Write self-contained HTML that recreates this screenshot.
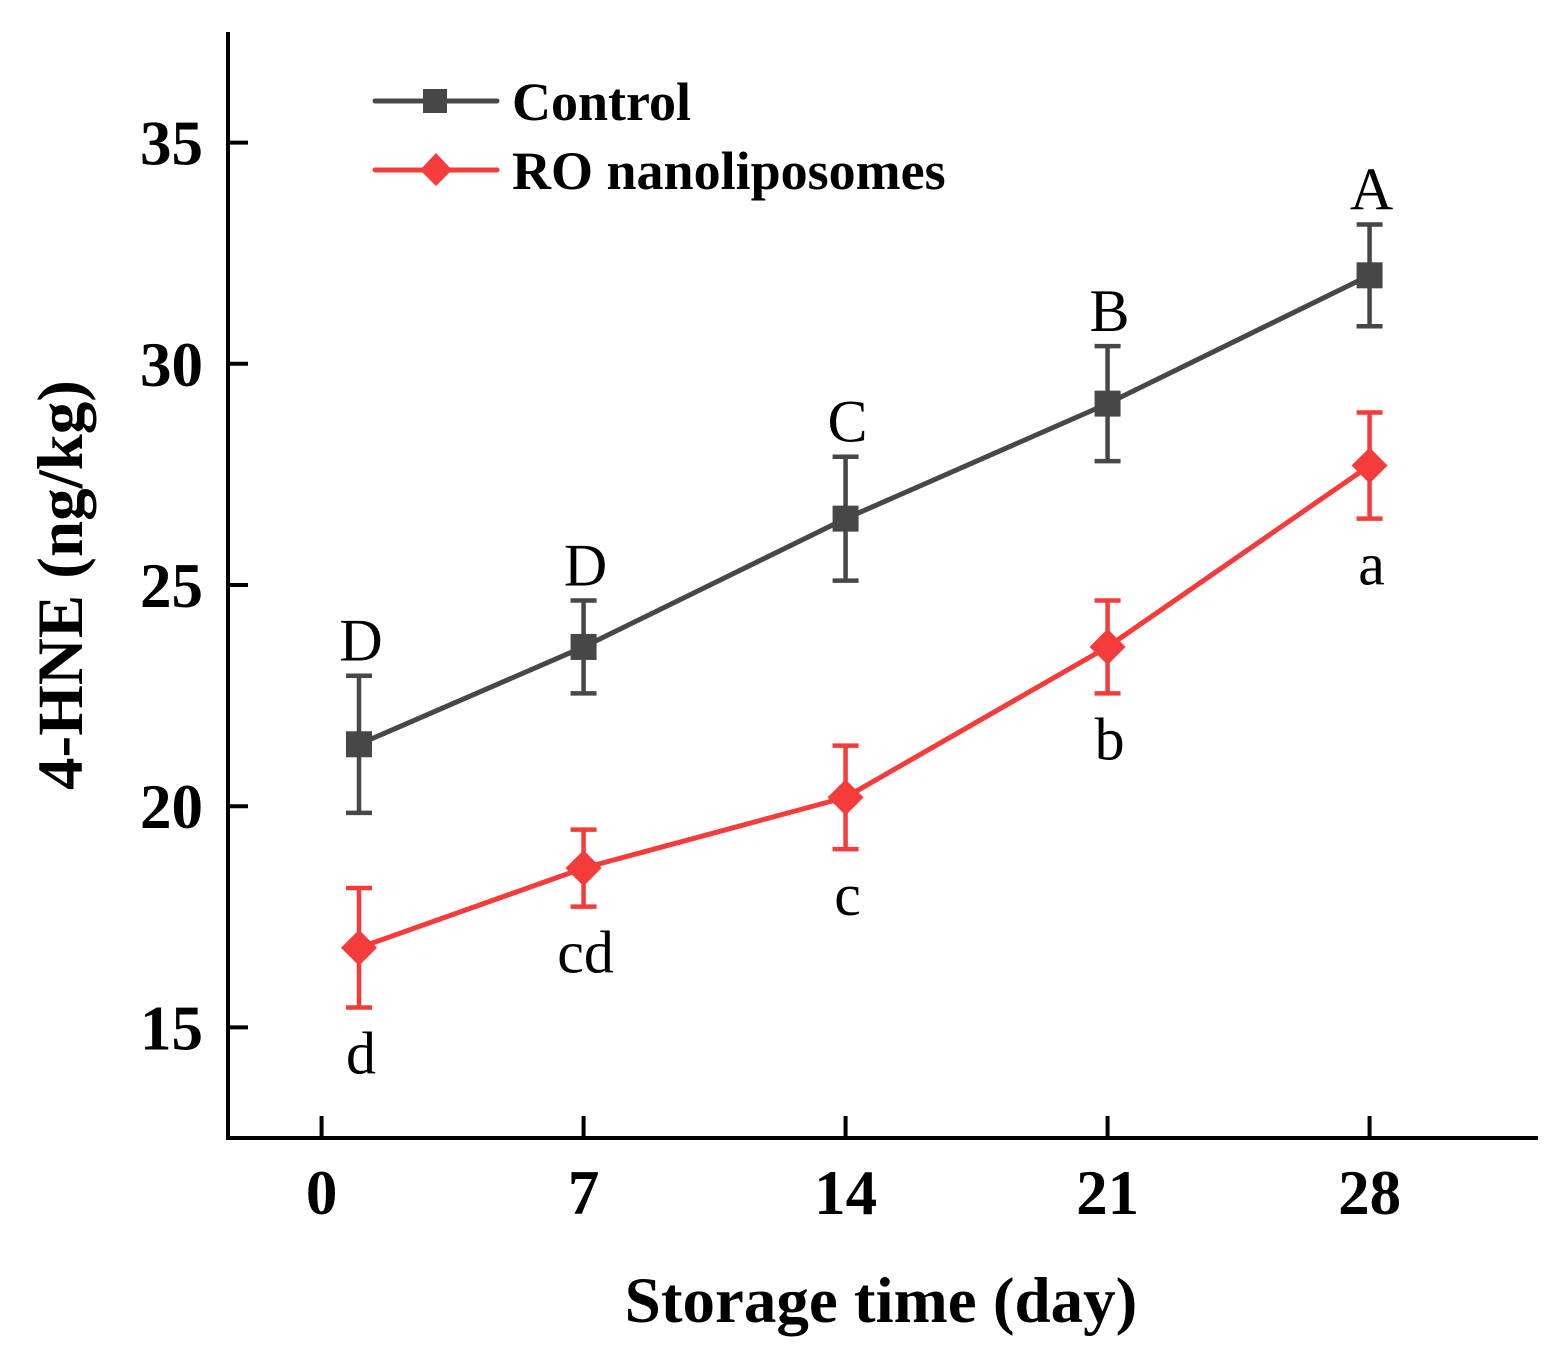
<!DOCTYPE html>
<html><head><meta charset="utf-8"><style>
body{margin:0;background:#fff}
svg{display:block;font-family:"Liberation Serif",serif}
</style></head><body>
<svg id="c" width="1553" height="1364">
<g id="axes"></g>
<g id="plot"></g>
<text x="881" y="1322" text-anchor="middle" font-size="65" font-weight="bold">Storage time (day)</text>
<text transform="translate(82,585) rotate(-90)" text-anchor="middle" font-size="65" font-weight="bold">4-HNE (ng/kg)</text>
<g>
<line x1="375" y1="101" x2="497" y2="101" stroke="#474747" stroke-width="5" stroke-linecap="round"/>
<rect x="423" y="89" width="24" height="24" fill="#474747"/>
<text x="512" y="120" font-size="54" font-weight="bold">Control</text>
<line x1="375" y1="170" x2="497" y2="170" stroke="#f63b3b" stroke-width="5" stroke-linecap="round"/>
<polygon points="436,153 452,170 436,186 420,170" fill="#f63b3b"/>
<text x="512" y="189" font-size="54" font-weight="bold">RO nanoliposomes</text>
</g>
</svg>
<script>
const days=[1,7,14,21,28];
const xTicks=[0,7,14,21,28];
const yTicks=[15,20,25,30,35];
const controlVals=[21.4,23.6,26.5,29.1,32.0];
const controlErr=[1.55,1.05,1.4,1.3,1.15];
const controlLetters=["D","D","C","B","A"];
const roVals=[16.8,18.6,20.2,23.6,27.7];
const roErr=[1.35,0.87,1.17,1.05,1.2];
const roLetters=["d","cd","c","b","a"];
const NS="http://www.w3.org/2000/svg";
const X0=-2.5,X1=32.5,Y0=12.5,Y1=37.5,L=228,R=1538,T=32,B=1138;
const sx=v=>L+(v-X0)/(X1-X0)*(R-L);
const sy=v=>B-(v-Y0)/(Y1-Y0)*(B-T);
function mk(p,tag,a){const e=document.createElementNS(NS,tag);for(const k in a)e.setAttribute(k,a[k]);p.appendChild(e);return e;}
const ax=document.getElementById('axes'),pl=document.getElementById('plot');
let e=mk(ax,'line',{x1:L,y1:T,x2:L,y2:B+2,stroke:'#000','stroke-width':4});

e=mk(ax,'line',{x1:L-2,y1:B,x2:R,y2:B,stroke:'#000','stroke-width':4});

yTicks.forEach(v=>{
 e=mk(ax,'line',{x1:L,y1:sy(v),x2:L+20,y2:sy(v),stroke:'#000','stroke-width':4});
 
 e=mk(ax,'text',{x:L-25,y:sy(v)+22,'text-anchor':'end','font-size':63,'font-weight':'bold'});e.textContent=v;
 
});
xTicks.forEach(v=>{
 e=mk(ax,'line',{x1:sx(v),y1:B,x2:sx(v),y2:B-22,stroke:'#000','stroke-width':4});
 
 e=mk(ax,'text',{x:sx(v),y:1214,'text-anchor':'middle','font-size':63,'font-weight':'bold'});e.textContent=v;
 
});
function series(vals,err,letters,col,shape,name,above){
 const g=mk(pl,'g',{});
 const pts=days.map((d,i)=>sx(d)+','+sy(vals[i])).join(' ');
 e=mk(g,'polyline',{points:pts,fill:'none',stroke:col,'stroke-width':5});
 
 days.forEach((d,i)=>{
  const x=sx(d),y=sy(vals[i]),yt=sy(vals[i]+err[i]),yb=sy(vals[i]-err[i]);
  const eb=mk(g,'path',{d:`M${x},${yt}V${yb}M${x-13},${yt}H${x+13}M${x-13},${yb}H${x+13}`,stroke:col,'stroke-width':4.5,fill:'none'});
  
  let m;
  if(shape==='sq')m=mk(g,'rect',{x:x-13,y:y-13,width:26,height:26,fill:col});
  else m=mk(g,'polygon',{points:`${x},${y-18} ${x+18},${y} ${x},${y+18} ${x-18},${y}`,fill:col});
  
  const t=mk(g,'text',{x:x+2,y:above?yt-15:yb+66,'text-anchor':'middle','font-size':60});t.textContent=letters[i];
  
 });
}
series(controlVals,controlErr,controlLetters,'#474747','sq','control',true);
series(roVals,roErr,roLetters,'#f63b3b','di','ro-nanoliposomes',false);
</script>
</body></html>
